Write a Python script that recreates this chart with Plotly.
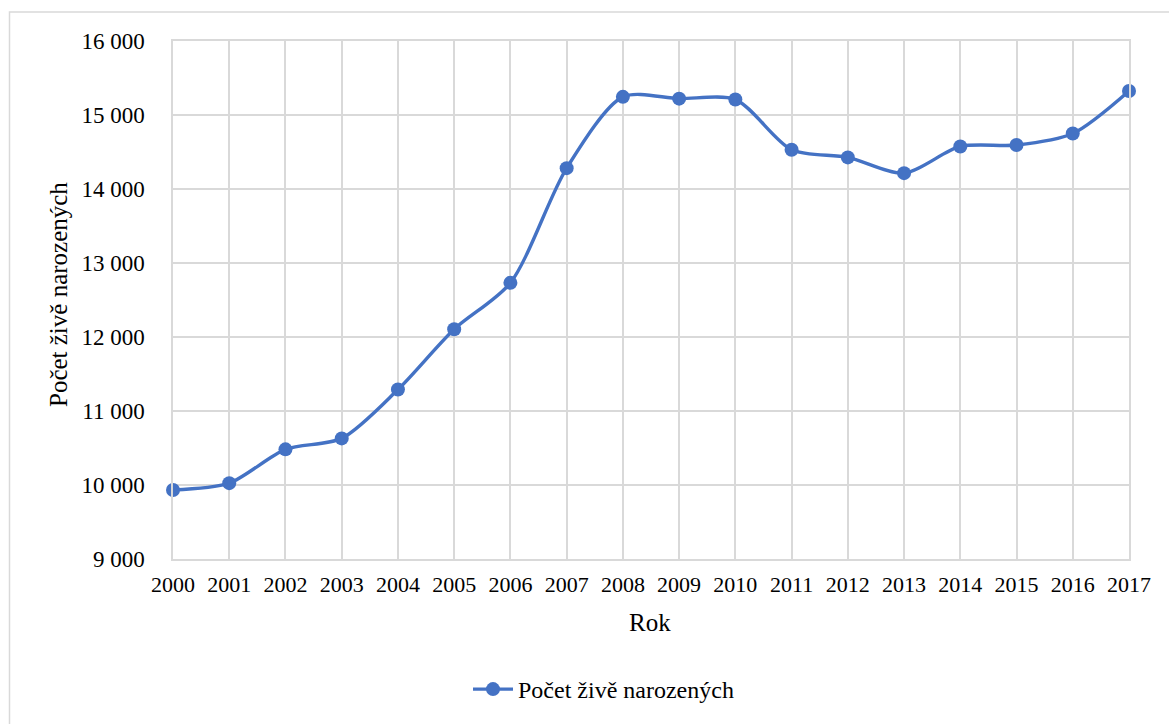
import plotly.graph_objects as go

years = list(range(2000, 2018))
births = [9933, 10025, 10482, 10630, 11290, 12105, 12732, 14282, 15245,
          15221, 15210, 14530, 14427, 14214, 14575, 14594, 14750, 15325]
y_ticks = [9000, 10000, 11000, 12000, 13000, 14000, 15000, 16000]

series_name = "Počet živě narozených"
x_title = "Rok"
y_title = "Počet živě narozených"

W, H = 1169, 724
L, R, T, B = 173, 1129, 41, 561
pw, ph = R - L, B - T

def px_x(p):
    return (p - L) / pw

def px_y(p):
    return (B - p) / ph

FONT = "Liberation Serif"
grid = "#d9d9d9"

fig = go.Figure()
fig.add_trace(go.Scatter(
    x=years, y=births, name=series_name, mode="lines+markers",
    line=dict(color="#4472C4", width=3.4, shape="spline", smoothing=0.8),
    marker=dict(color="#4472C4", size=14),
    cliponaxis=False,
))

fig.update_layout(
    width=W, height=H,
    margin=dict(l=L, r=W - R, t=T, b=H - B),
    paper_bgcolor="white", plot_bgcolor="white",
    font=dict(family=FONT, size=22, color="black"),
    separators=", ",
    showlegend=True,
    legend=dict(orientation="h", x=px_x(468), y=px_y(692),
                xanchor="left", yanchor="middle",
                font=dict(family=FONT, size=24), itemwidth=40,
                bgcolor="rgba(0,0,0,0)"),
    xaxis=dict(range=[2000, 2017], tickmode="array", tickvals=years,
               ticktext=[str(y) for y in years],
               tickfont=dict(family=FONT, size=22),
               showgrid=True, gridcolor=grid, gridwidth=1.5,
               showline=True, linecolor=grid, linewidth=1.5, mirror=True,
               zeroline=False, ticks="", ticklabelstandoff=5),
    yaxis=dict(range=[9000, 16000], tickmode="array", tickvals=y_ticks,
               tickformat=",d", tickfont=dict(family=FONT, size=23),
               showgrid=True, gridcolor=grid, gridwidth=1.5,
               showline=True, linecolor=grid, linewidth=1.5, mirror=True,
               zeroline=False, ticks="", ticklabelstandoff=22),
    annotations=[
        dict(text=x_title, xref="paper", yref="paper", x=px_x(650), y=px_y(625),
             xanchor="center", yanchor="middle", showarrow=False,
             font=dict(family=FONT, size=25)),
        dict(text=y_title, xref="paper", yref="paper", x=px_x(58), y=px_y(296),
             xanchor="center", yanchor="middle", showarrow=False, textangle=-90,
             font=dict(family=FONT, size=25)),
    ],
    shapes=[
        dict(type="rect", xref="paper", yref="paper",
             x0=px_x(9.5), x1=px_x(1200), y0=px_y(760), y1=px_y(12),
             line=dict(color="#d9d9d9", width=1.5), layer="below"),
    ],
)

fig.write_html("out.html", config={"displayModeBar": False},
               post_script="document.body.style.margin='0';document.body.style.overflow='hidden';")
